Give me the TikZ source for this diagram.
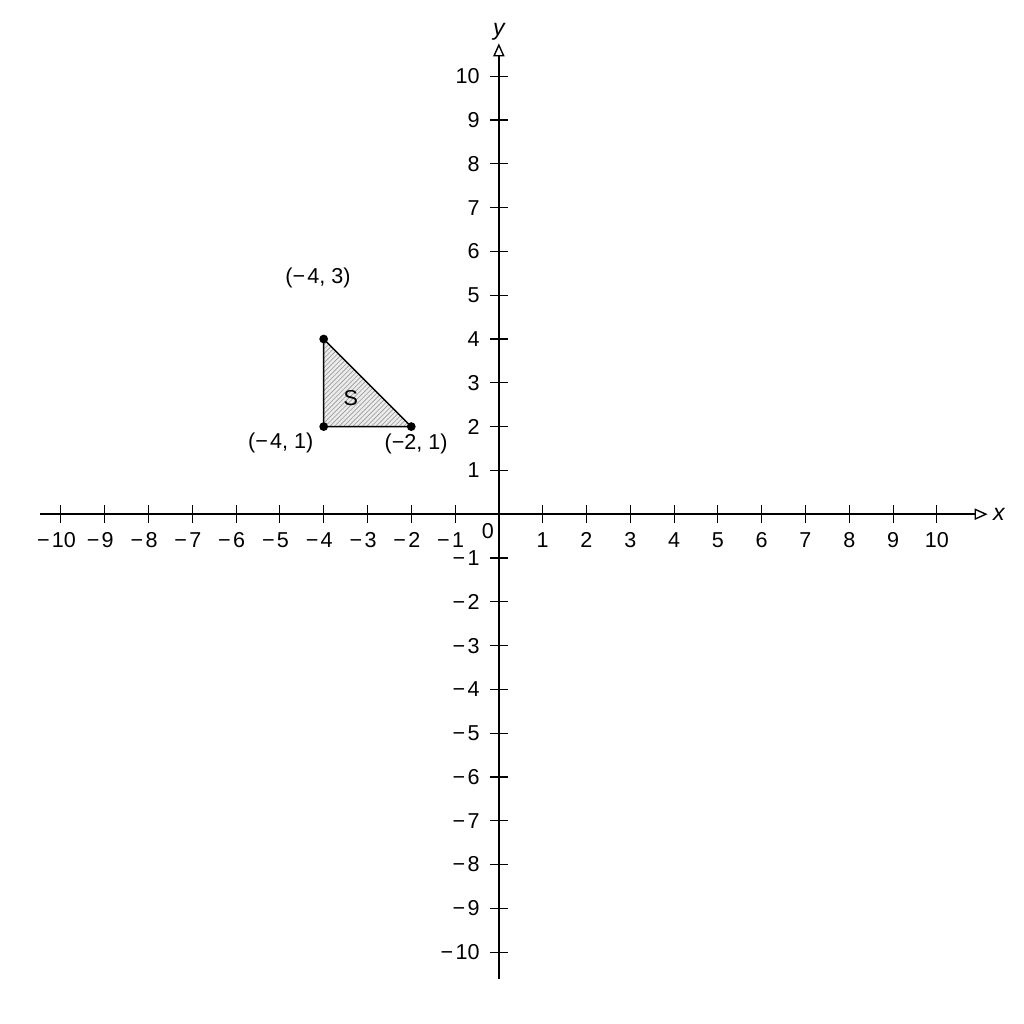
\documentclass[tikz,border=0pt]{standalone}
\usepackage{fontspec}
\setmainfont{Liberation Sans}
\usetikzlibrary{positioning, arrows.meta, patterns}

\begin{document}
\begin{tikzpicture}[
    axis/.style={line width=0.9pt, -{Triangle[open, length=0.3cm, width=0.26cm]}},
    lbl/.style={font=\fontsize{14}{16}\selectfont, inner sep=1pt},
    vertex/.style={circle, fill, inner sep=0pt, minimum size=0.2cm}
  ]
  \useasboundingbox (-11.39,-11.64) rectangle (11.99,11.74);
  % axes
  \coordinate (xmin) at (-10.48,0);
  \coordinate (xmax) at (11.16,0);
  \coordinate (ymin) at (0,-10.62);
  \coordinate (ymax) at (0,10.75);
  \draw[axis] (xmin) -- (xmax);
  \draw[axis] (ymin) -- (ymax);
  \node[lbl, font=\fontsize{15}{17}\selectfont\itshape, right = 0.08cm of xmax] (xname) {x};
  \node[lbl, font=\fontsize{15}{17}\selectfont\itshape, above = 0.02cm of ymax] (yname) {y};
  \node[lbl] (o) at (-0.25,-0.39) {0};
  % ticks and numbers
  \foreach \i in {1,...,10} {
    \draw[line width=0.7pt] (\i,-0.2) -- (\i,0.2);
    \draw[line width=0.7pt] (-\i,-0.2) -- (-\i,0.2);
    \draw[line width=0.7pt] (-0.2,\i) -- (0.2,\i);
    \draw[line width=0.7pt] (-0.2,-\i) -- (0.2,-\i);
    \node[lbl] (xp\i) at (\i,-0.6) {\i};
    \node[lbl] (xn\i) at (-\i-0.1,-0.6) {−\kern1.5pt\i};
    \node[lbl, anchor=east] (yp\i) at (-0.4,\i) {\i};
    \node[lbl, anchor=east] (yn\i) at (-0.4,-\i) {−\kern1.5pt\i};
  }
  % region S
  \coordinate (A) at (-4,4);
  \coordinate (B) at (-4,2);
  \coordinate (C) at (-2,2);
  \fill[gray!15] (A) -- (B) -- (C) -- cycle;
  \fill[pattern=north east lines, pattern color=gray!80] (A) -- (B) -- (C) -- cycle;
  \draw[line width=0.9pt, line join=round] (A) -- (B) -- (C) -- cycle;
  \node[vertex] (pA) at (A) {};
  \node[vertex] (pB) at (B) {};
  \node[vertex] (pC) at (C) {};
  \node[lbl] (s) at (-3.38,2.65) {S};
  \node[lbl] (lA) at (-4.13,5.39) {(−\kern1.5pt4, 3)};
  \node[lbl] (lB) at (-4.98,1.62) {(−\kern1.5pt4, 1)};
  \node[lbl] (lC) at (-1.89,1.60) {(−2, 1)};
\end{tikzpicture}
\end{document}
